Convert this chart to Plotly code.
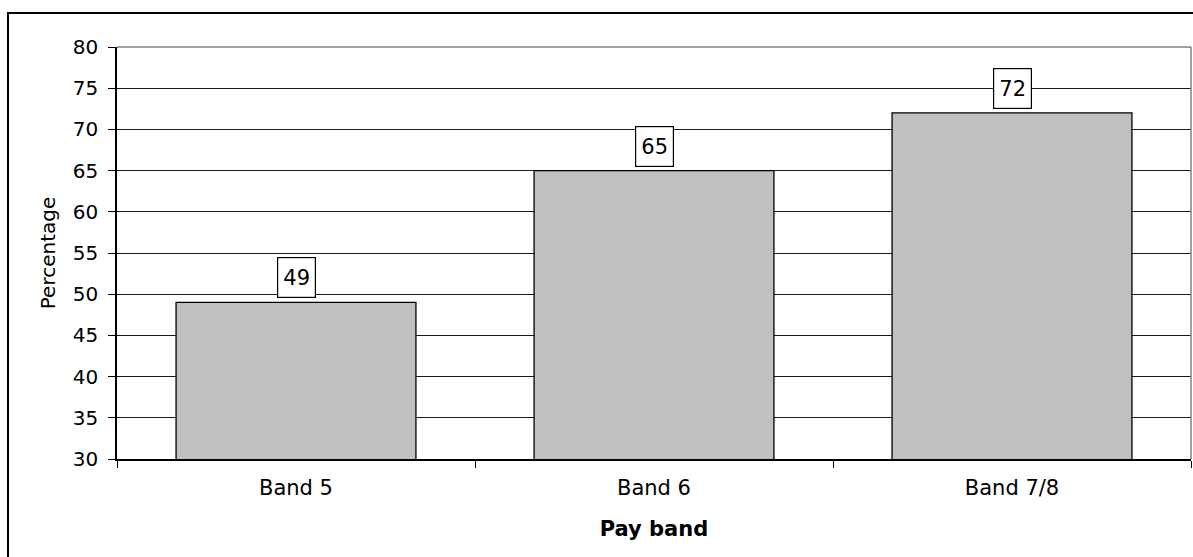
import plotly.graph_objects as go

# Share of staff by pay band
bands = ["Band 5", "Band 6", "Band 7/8"]
percentages = [49, 65, 72]
y_ticks = [30, 35, 40, 45, 50, 55, 60, 65, 70, 75, 80]

W, H = 1193, 557
L, R, T, B = 117, 2, 47, 98
plot_w = W - L - R
plot_h = H - T - B

FONT = "DejaVu Sans, Verdana, sans-serif"

fig = go.Figure()
fig.add_trace(go.Bar(
    x=bands,
    y=percentages,
    width=0.67,
    marker=dict(color="#C0C0C0", line=dict(color="#000000", width=1.3)),
    hoverinfo="x+y",
))

# Boxed value labels above each bar
for b, v in zip(bands, percentages):
    fig.add_annotation(
        x=b, y=v, text=str(v), showarrow=False,
        yanchor="bottom", yshift=4,
        width=35, height=37,
        bgcolor="#FFFFFF", bordercolor="#000000", borderwidth=1.2, borderpad=1,
        font=dict(family=FONT, size=21, color="#000000"),
    )

def px_to_paper_x(px):
    return (px - L) / plot_w

def px_to_paper_y(py):
    return (H - B - py) / plot_h

shapes = [
    # outer chart frame
    dict(type="rect", xref="paper", yref="paper",
         x0=px_to_paper_x(8), x1=px_to_paper_x(W + 20),
         y0=px_to_paper_y(H + 20), y1=px_to_paper_y(13),
         line=dict(color="#000000", width=2), layer="above"),
    # plot-area top and right borders
    dict(type="line", xref="paper", yref="paper", x0=0, x1=1, y0=1, y1=1,
         line=dict(color="#808080", width=1.5), layer="above"),
    dict(type="line", xref="paper", yref="paper", x0=1, x1=1, y0=0, y1=1,
         line=dict(color="#808080", width=1.5), layer="above"),
]

fig.update_layout(
    width=W, height=H,
    margin=dict(l=L, r=R, t=T, b=B, pad=0),
    paper_bgcolor="#FFFFFF", plot_bgcolor="#FFFFFF",
    font=dict(family=FONT, size=20, color="#000000"),
    showlegend=False,
    bargap=0.33,
    shapes=shapes,
)

fig.update_xaxes(
    type="category",
    showline=True, linecolor="#000000", linewidth=1.5,
    ticks="outside", tickson="boundaries", ticklen=7, tickcolor="#000000", tickwidth=1.3,
    ticklabelstandoff=9,
    tickfont=dict(size=21),
    showgrid=False,
    title=dict(text="<b>Pay band</b>", font=dict(family=FONT, size=21), standoff=22),
)

fig.update_yaxes(
    range=[30, 80],
    tickvals=y_ticks,
    showline=True, linecolor="#000000", linewidth=1.5,
    ticks="outside", ticklen=7, tickcolor="#000000", tickwidth=1.3,
    ticklabelstandoff=6,
    tickfont=dict(size=20),
    showgrid=True, gridcolor="#1a1a1a", gridwidth=1,
    zeroline=False,
    title=dict(text="Percentage", font=dict(family=FONT, size=20), standoff=12),
)

fig.write_html("out.html")
